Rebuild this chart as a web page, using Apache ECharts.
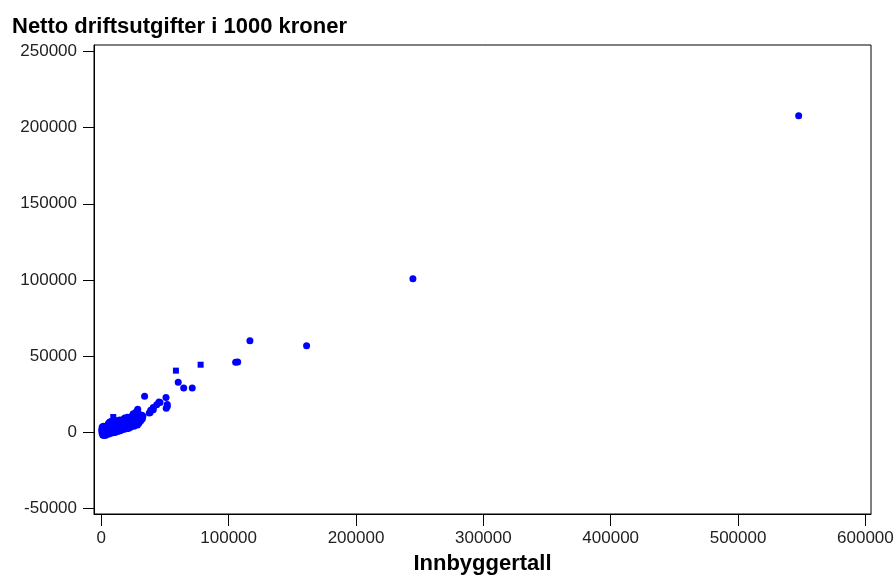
<!DOCTYPE html>
<html>
<head>
<meta charset="utf-8">
<script src="https://cdn.jsdelivr.net/npm/echarts@6/dist/echarts.min.js"></script>
<style>html,body{margin:0;padding:0;background:#fff;}#c{width:896px;height:576px;}</style>
</head>
<body>
<div id="c"></div>
<script>
const titleText = 'Netto driftsutgifter i 1000 kroner';
const xName = 'Innbyggertall';
const xTicks = [0, 100000, 200000, 300000, 400000, 500000, 600000];
const yTicks = [-50000, 0, 50000, 100000, 150000, 200000, 250000];

// [innbyggertall, netto driftsutgifter] - circles
const dots = [
  [300,1500],[500,-600],[700,3200],[900,400],[1100,-2000],[1300,2200],[1500,-1000],[1700,3800],[1900,900],[2100,-2400],
  [2300,1700],[2500,-300],[2700,3000],[2900,-1600],[3100,2400],[3300,500],[3500,-2200],[3700,3600],[3900,1200],[4100,-800],
  [4300,2800],[4500,200],[4700,4200],[4900,-1400],[1200,600],[2600,1200],[3600,-700],[4400,1800],
  [5200,3400],[5400,-400],[5600,5600],[5800,1500],[6000,-1300],[6200,4300],[6400,2200],[6600,6600],[6800,400],[7000,3300],
  [7200,-900],[7400,5200],[7600,1800],[7800,6900],[8000,-200],[8200,4000],[8400,2600],[8600,6200],[8800,800],[9000,4900],
  [9200,-600],[9600,3000],[9800,6500],[5900,2700],[7100,4700],[8300,1200],
  [10200,1600],[10500,5200],[10800,-300],[11100,7600],[11400,3500],[11700,800],[12000,5800],[12300,2500],[12600,7200],[12900,300],
  [13200,4400],[13500,6600],[13800,1800],[14100,3700],[14400,7900],[14700,800],[15000,5300],[15300,2700],[15600,7000],[15900,1200],
  [16200,4600],[16500,6200],[16800,2200],[11000,4000],[13000,2800],
  [17200,8200],[17500,3600],[17800,5800],[18100,1800],[18400,9200],[18700,4700],[19000,6900],[19300,2600],[19600,8000],[19900,5000],
  [20200,3200],[20500,9600],[20800,6300],[21100,2200],[21400,7500],[21700,4400],[22000,9200],[22300,5700],[22600,3000],[22900,7800],
  [23200,9900],[23500,4800],[23800,6700],
  [24200,10500],[24500,4300],[24800,8200],[25100,12000],[25400,6000],[25700,3800],[26000,9300],[26300,7000],[26600,11200],[26900,5100],
  [27200,8600],[27500,13200],[27800,6400],[28100,10200],[28400,4600],[28700,7900],[29000,12500],[29300,9300],[29600,5800],[28600,15000],
  [30200,8200],[30600,10600],[31000,7300],[31400,9400],[31800,11000],[32300,8700],[32700,10400],
  [34000,23400],[37700,12400],[38300,12800],[38800,14200],[40800,16100],[40800,14600],[43500,17900],[45300,19700],[46100,19400],
  [50800,22700],[51800,18000],[51800,16800],[51000,15600],[60400,32600],[64700,28900],[71400,28900],
  [105500,45800],[107100,46000],[116700,60000],[161200,56700],[244700,100800],[547600,207900]
];
// squares
const squares = [[9400,9800],[58600,40300],[78000,44200]];

const chart = echarts.init(document.getElementById('c'), null, {renderer: 'canvas'});
const labelStyle = {color: '#222', fontFamily: 'Liberation Sans, Arial, sans-serif', fontSize: 17};
chart.setOption({
  animation: false,
  backgroundColor: '#fff',
  title: {
    text: titleText, left: 12, top: 16, padding: 0,
    textStyle: {fontFamily: 'Liberation Sans, Arial, sans-serif', fontSize: 22, fontWeight: 'bold', color: '#000'}
  },
  grid: {left: 94, right: 25, top: 45, bottom: 62, outerBoundsMode: 'none', containLabel: false,
         show: true, borderColor: '#000', borderWidth: 1, backgroundColor: 'transparent'},
  xAxis: {
    type: 'value', min: -5730, max: 604400,
    name: xName, nameLocation: 'middle', nameGap: 39,
    nameTextStyle: {fontFamily: 'Liberation Sans, Arial, sans-serif', fontSize: 22, fontWeight: 'bold', color: '#000'},
    splitLine: {show: false},
    axisLine: {show: true, onZero: false, lineStyle: {color: '#000', width: 1}},
    axisTick: {show: true, length: 12, customValues: xTicks, lineStyle: {color: '#000'}},
    axisLabel: Object.assign({margin: 16, customValues: xTicks, formatter: v => String(v)}, labelStyle)
  },
  yAxis: {
    type: 'value', min: -53950, max: 254400,
    splitLine: {show: false},
    axisLine: {show: true, onZero: false, lineStyle: {color: '#000', width: 1}},
    axisTick: {show: true, length: 11, customValues: yTicks, lineStyle: {color: '#000'}},
    axisLabel: Object.assign({margin: 17, customValues: yTicks, formatter: v => String(v)}, labelStyle)
  },
  series: [
    {type: 'scatter', data: dots, symbol: 'circle', symbolSize: 7, itemStyle: {color: '#0000ff', opacity: 1}},
    {type: 'scatter', data: squares, symbol: 'rect', symbolSize: 6, itemStyle: {color: '#0000ff', opacity: 1}}
  ]
});
</script>
</body>
</html>
